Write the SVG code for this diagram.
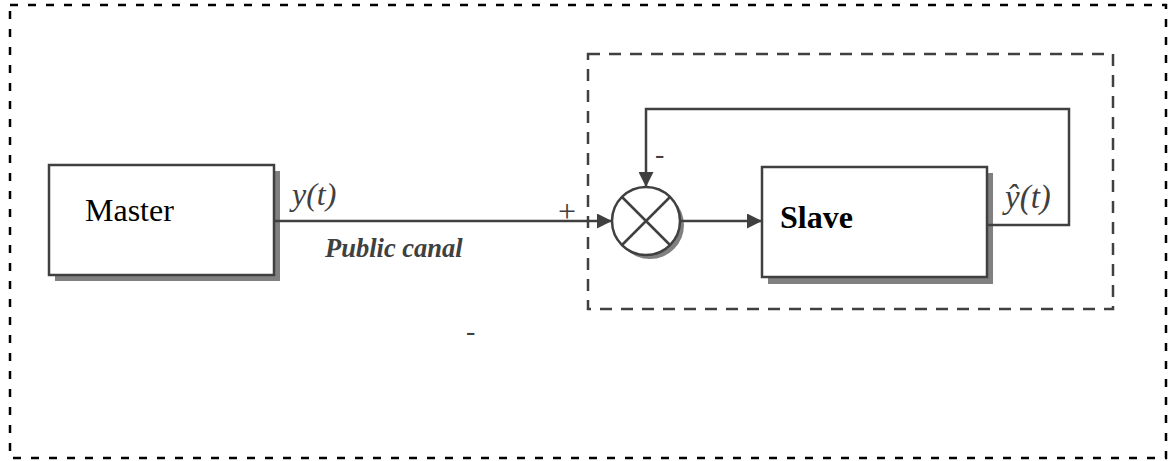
<svg xmlns="http://www.w3.org/2000/svg" width="1168" height="461" viewBox="0 0 1168 461">
<style>
.ln{fill:none;stroke:#404040;stroke-width:2.5}
.box{fill:#fff;stroke:#404040;stroke-width:2.5}
.sh{fill:#808080}
.t{font-family:"Liberation Serif","Times New Roman",serif}
</style>
<defs>
<marker id="ah" viewBox="0 0 15 15" refX="15" refY="7.5" markerWidth="15" markerHeight="15" markerUnits="userSpaceOnUse" orient="auto">
<path d="M0,0 L15,7.5 L0,15 Z" fill="#404040"/>
</marker>
</defs>
<rect width="1168" height="461" fill="#fff"/>
<g id="outer">
<rect x="10" y="5" width="1156" height="453" fill="none" stroke="#000" stroke-width="2.5" stroke-dasharray="8 10"/>
</g>
<g id="inner">
<rect x="588" y="54" width="525" height="255" fill="none" stroke="#404040" stroke-width="2.5" stroke-dasharray="12 9"/>
</g>
<g id="master">
<rect class="sh" x="55" y="171" width="225" height="110"/>
<rect class="box" x="49" y="165" width="225" height="110"/>
<text class="t" x="85" y="221" font-size="32" fill="#000">Master</text>
</g>
<g id="sum">
<circle cx="650" cy="225" r="34" class="sh"/>
<circle cx="646" cy="221" r="34" class="box"/>
<path class="ln" d="M622,197 L670,245 M670,197 L622,245" stroke-width="2"/>
</g>
<g id="slave">
<rect class="sh" x="768" y="173" width="225" height="111"/>
<rect class="box" x="762" y="167" width="225" height="110"/>
<text class="t" x="780" y="228" font-size="32" font-weight="bold" fill="#000">Slave</text>
</g>
<g id="connectors">
<path class="ln" d="M274,221 L612,221" marker-end="url(#ah)"/>
<path class="ln" d="M680,221 L762,221" marker-end="url(#ah)"/>
<path class="ln" d="M987,225 L1069,225 L1069,109 L646,109 L646,187" marker-end="url(#ah)"/>
</g>
<g id="labels" fill="#404040">
<text class="t" x="292" y="205" font-size="32" font-style="italic">y(t)</text>
<text class="t" x="325" y="257" font-size="26.5" font-style="italic" font-weight="bold">Public canal</text>
<text class="t" x="558" y="222" font-size="32">+</text>
<text class="t" x="655" y="163" font-size="28">-</text>
<text class="t" x="1005" y="208" font-size="33" font-style="italic">ŷ(t)</text>
<text class="t" x="466" y="340" font-size="28">-</text>
</g>
</svg>
